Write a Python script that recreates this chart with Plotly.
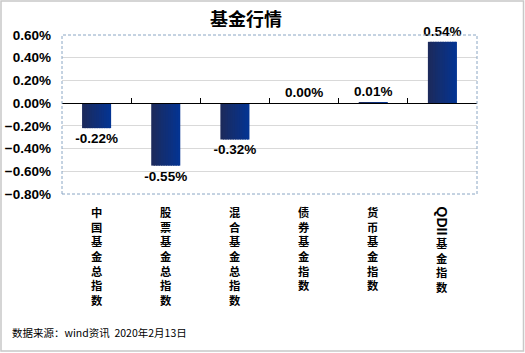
import plotly.graph_objects as go

categories = ["中国基金总指数", "股票基金总指数", "混合基金总指数", "债券基金指数", "货币基金指数", "QDII基金指数"]
values = [-0.0022, -0.0055, -0.0032, 0.0000, 0.0001, 0.0054]
labels = ["-0.22%", "-0.55%", "-0.32%", "0.00%", "0.01%", "0.54%"]
y_ticks = [-0.008, -0.006, -0.004, -0.002, 0.0, 0.002, 0.004, 0.006]

W, H = 525, 353
ml, mr, mt, mb = 62, 48, 35, 159
pw, ph = W - ml - mr, H - mt - mb
xs = list(range(len(categories)))

fig = go.Figure()

# gradient bars via overlapping slices
N = 12
bw = 0.42
c0 = (0x1c, 0x2a, 0x5c)
c1 = (0x04, 0x34, 0x92)
for i in range(N):
    t = i / (N - 1)
    col = "rgb(%d,%d,%d)" % tuple(round(a + (b - a) * t) for a, b in zip(c0, c1))
    sw = bw / N
    wid = sw * 1.6 if i < N - 1 else sw
    fig.add_trace(go.Bar(x=xs, y=values, width=wid, offset=-bw / 2 + i * sw,
                         marker=dict(color=col, line=dict(width=0)), showlegend=False,
                         hoverinfo="skip"))

fig.add_trace(go.Bar(x=xs, y=values, width=bw, text=labels, textposition="outside",
                     constraintext="none",
                     textfont=dict(family="Liberation Sans, Arial", size=13.5, color="black", weight="bold"),
                     marker=dict(color="rgba(0,0,0,0)", line=dict(width=0)),
                     cliponaxis=False, showlegend=False))

zero_pos = (0 - y_ticks[0]) / (y_ticks[-1] - y_ticks[0])

fig.update_layout(
    width=W, height=H, margin=dict(l=ml, r=mr, t=mt, b=mb, autoexpand=False),
    plot_bgcolor="white", paper_bgcolor="white", barmode="overlay",
    xaxis=dict(range=[-0.5, len(categories) - 0.5], showgrid=False, zeroline=False,
               showticklabels=False, anchor="free", position=zero_pos, automargin=False,
               showline=True, linecolor="black", linewidth=1.2,
               tickmode="array", tickvals=[x + 0.5 for x in xs[:-1]],
               ticks="inside", ticklen=5, tickcolor="black", tickwidth=1),
    yaxis=dict(range=[y_ticks[0], y_ticks[-1]], tickvals=y_ticks, tickformat=".2%",
               showgrid=True, gridcolor="#d9d9d9", gridwidth=1, zeroline=False,
               ticks="", ticklabelstandoff=10, automargin=False,
               tickfont=dict(family="Liberation Sans, Arial", size=13.5, color="black", weight="bold")),
    showlegend=False,
)

# plot area dashed border
fig.add_shape(type="rect", xref="paper", yref="paper", x0=0, x1=1, y0=0, y1=1,
              line=dict(color="#8aa6c4", width=1, dash="3px,2px"), layer="above")
# outer chart border
fig.add_shape(type="rect", xref="paper", yref="paper",
              x0=-(ml - 1) / pw, x1=1 + (mr - 1.5) / pw,
              y0=-(mb - 2) / ph, y1=1 + (mt - 1) / ph,
              line=dict(color="#c8c8c8", width=1.5))

# title
fig.add_annotation(text="基金行情", xref="paper", yref="paper",
                   x=(246 - ml) / pw, y=1 + (mt - 18) / ph, xanchor="center", yanchor="middle",
                   showarrow=False,
                   font=dict(family="Noto Sans CJK SC", size=18, color="black", weight="bold"))

# vertical category labels
cfont = dict(family="Noto Sans CJK SC", size=11.3, color="black", weight="bold")
for x, name in zip(xs, categories):
    top = 202
    rest = name
    if name.startswith("QDII"):
        fig.add_annotation(text="QDII", xref="x", yref="paper", x=x, y=0,
                           yanchor="middle", xanchor="center", textangle=90,
                           yshift=-(221 - (mt + ph)), showarrow=False,
                           font=dict(family="Liberation Sans, Arial", size=14, color="black", weight="bold"))
        rest = name[4:]
        top = 233
    fig.add_annotation(text="<br>".join(rest), xref="x", yref="paper", x=x, y=0,
                       yanchor="top", xanchor="center",
                       yshift=-(top - (mt + ph)), showarrow=False, font=cfont)

# footer
fig.add_annotation(text="数据来源：wind资讯  2020年2月13日", xref="paper", yref="paper",
                   x=-(ml - 10) / pw, y=-(332 - (mt + ph)) / ph, xanchor="left", yanchor="middle",
                   showarrow=False,
                   font=dict(family="Noto Sans CJK SC", size=10.5, color="black"))

fig.write_html("out.html")
